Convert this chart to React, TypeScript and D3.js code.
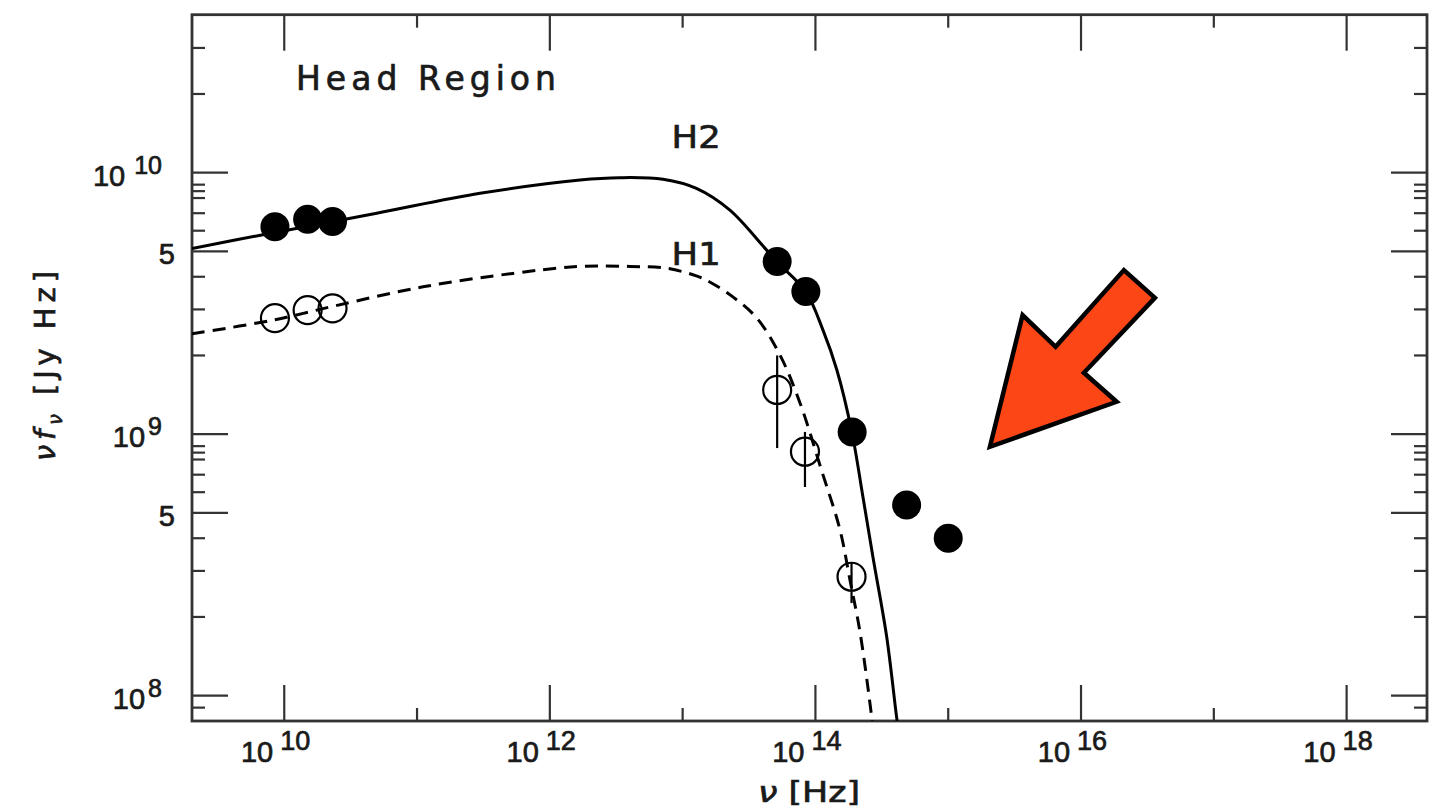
import React from 'react';
import * as d3 from 'd3';

const W = 1444;
const H = 812;

// axis ranges (Hz and Jy Hz)
const xDomain: [number, number] = [2.02e9, 4.03e18];
const yDomain: [number, number] = [8.0e7, 4.02e10];

const xMajorTicks = [1e10, 1e12, 1e14, 1e16, 1e18];
const xMajorExp = ['10', '12', '14', '16', '18'];
const xMinorTicks = [1e11, 1e13, 1e15, 1e17];

const yPowTicks = [1e8, 1e9, 1e10];
const yPowExp = ['8', '9', '10'];
const yFiveTicks = [5e8, 5e9];
const yMinorMantissas = [2, 3, 4, 6, 7, 8, 8.5, 9];
const yDecades = [1e7, 1e8, 1e9, 1e10];

// filled symbols
const filledNu = [8.51e9, 1.5e10, 2.31e10, 5.15e13, 8.47e13, 1.89e14, 4.86e14, 1.0e15];
const filledFlux = [6.21e9, 6.64e9, 6.5e9, 4.57e9, 3.51e9, 1.02e9, 5.36e8, 4.0e8];

// open symbols
const openNu = [8.51e9, 1.5e10, 2.31e10, 5.15e13, 8.34e13, 1.87e14];
const openFlux = [2.78e9, 2.98e9, 3.03e9, 1.476e9, 8.57e8, 2.85e8];
const openErrLo = [null, null, null, 8.85e8, 6.28e8, 2.26e8];
const openErrHi = [null, null, null, 2.0e9, 1.02e9, 3.24e8];

// H2 model (solid)
const h2Nu = [2.02e9, 6.76e9, 4.97e10, 2.98e11, 1.69e12, 3.37e12, 7.11e12, 1.27e13, 2.27e13, 4.02e13, 5.13e13, 8.47e13, 1.14e14, 1.45e14, 1.88e14, 2.28e14, 2.71e14, 3.44e14, 4.08e14, 4.27e14];
const h2Flux = [5.13e9, 5.78e9, 7.0e9, 8.34e9, 9.38e9, 9.57e9, 9.44e9, 8.71e9, 7.19e9, 5.25e9, 4.56e9, 3.5e9, 2.5e9, 1.76e9, 1.02e9, 5.75e8, 3.39e8, 1.68e8, 8.32e7, 7.08e7];

// H1 model (dashed)
const h1Nu = [2.02e9, 8.51e9, 2.37e10, 1.11e11, 5.27e11, 1.69e12, 4.01e12, 7.59e12, 1.27e13, 1.6e13, 2.39e13, 3.62e13, 5.4e13, 7.64e13, 1.11e14, 1.53e14, 1.82e14, 2.17e14, 2.65e14, 2.75e14];
const h1Flux = [2.42e9, 2.74e9, 3.09e9, 3.66e9, 4.12e9, 4.38e9, 4.38e9, 4.31e9, 4.03e9, 3.82e9, 3.35e9, 2.78e9, 2.01e9, 1.32e9, 7.29e8, 4.31e8, 2.77e8, 1.74e8, 8.32e7, 7.08e7];

// annotations
const regionTitle = 'Head Region';
const curveLabels = [
  { text: 'H2', nu: 8.26e12, flux: 1.24e10 },
  { text: 'H1', nu: 8.26e12, flux: 4.43e9 },
];
const arrowTip = { nu: 2.06e15, flux: 8.95e8 };
const arrowShape: [number, number][] = [
  [0, 0], [32.7, -131.7], [65.7, -100], [134, -176.7], [165, -149], [94, -74], [126.7, -45],
];

const L = 192, R = 1427, T = 14.7, B = 721;

export default function App() {
  const x = d3.scaleLog().domain(xDomain).range([L, R]);
  const y = d3.scaleLog().domain(yDomain).range([B, T]);

  const line = d3
    .line<[number, number]>()
    .x((d) => x(d[0]))
    .y((d) => y(d[1]))
    .curve(d3.curveCatmullRom.alpha(0.5));

  const h2 = h2Nu.map((n, i) => [n, h2Flux[i]] as [number, number]);
  const h1 = h1Nu.map((n, i) => [n, h1Flux[i]] as [number, number]);

  const yMinor: number[] = [];
  yDecades.forEach((d) =>
    yMinorMantissas.forEach((m) => {
      const v = m * d;
      const py = y(v);
      if (py > T + 3 && py < B - 9) yMinor.push(v);
    })
  );

  const axisColor = '#333';
  const textColor = '#1a1a1a';
  const numFont = '"Liberation Sans", Arial, sans-serif';
  const textFont = '"DejaVu Sans", sans-serif';
  const majorLen = 36;
  const minorLen = 13;
  const thick = { stroke: textColor, strokeWidth: 0.7 };

  const tipX = x(arrowTip.nu);
  const tipY = y(arrowTip.flux);
  const arrowPts = arrowShape.map(([dx, dy]) => `${tipX + dx},${tipY + dy}`).join(' ');

  return (
    <svg
      width={W}
      height={H}
      style={{ position: 'absolute', left: 0, top: 0, background: '#fff' }}
    >
      <defs>
        <clipPath id="plotClip">
          <rect x={L} y={T} width={R - L} height={B - T} />
        </clipPath>
      </defs>
      <rect x={0} y={0} width={W} height={H} fill="#fff" />

      {/* x ticks bottom & top */}
      {xMajorTicks.map((t) => (
        <g key={'xM' + t} stroke={axisColor} strokeWidth={2.2}>
          <line x1={x(t)} x2={x(t)} y1={B} y2={B - majorLen} />
          <line x1={x(t)} x2={x(t)} y1={T} y2={T + majorLen} />
        </g>
      ))}
      {xMinorTicks.map((t) => (
        <g key={'xm' + t} stroke={axisColor} strokeWidth={2.2}>
          <line x1={x(t)} x2={x(t)} y1={B} y2={B - minorLen} />
          <line x1={x(t)} x2={x(t)} y1={T} y2={T + minorLen} />
        </g>
      ))}
      {/* y ticks left & right */}
      {[...yPowTicks, ...yFiveTicks].map((t) => (
        <g key={'yM' + t} stroke={axisColor} strokeWidth={2.2}>
          <line x1={L} x2={L + majorLen} y1={y(t)} y2={y(t)} />
          <line x1={R} x2={R - majorLen} y1={y(t)} y2={y(t)} />
        </g>
      ))}
      {yMinor.map((t) => (
        <g key={'ym' + t} stroke={axisColor} strokeWidth={2.2}>
          <line x1={L} x2={L + minorLen} y1={y(t)} y2={y(t)} />
          <line x1={R} x2={R - minorLen} y1={y(t)} y2={y(t)} />
        </g>
      ))}

      {/* frame */}
      <rect x={L} y={T} width={R - L} height={B - T} fill="none" stroke={axisColor} strokeWidth={2.8} />

      {/* x tick labels */}
      {xMajorTicks.map((t, i) => (
        <g key={'xl' + t} fontFamily={numFont} fill={textColor} {...thick}>
          <text x={x(t) - 11} y={762} fontSize={29} textAnchor="end">10</text>
          <text x={x(t) - 4} y={750} fontSize={27} textAnchor="start">{xMajorExp[i]}</text>
        </g>
      ))}
      {/* y tick labels */}
      {yPowTicks.map((t, i) => (
        <text key={'yl' + t} x={162} y={y(t) + 13} fontFamily={numFont} fill={textColor} textAnchor="end" {...thick}>
          <tspan fontSize={29}>10</tspan>
          <tspan fontSize={25} dx={i === 2 ? 9 : 3} dy={-12}>{yPowExp[i]}</tspan>
        </text>
      ))}
      {yFiveTicks.map((t) => (
        <text key={'y5' + t} x={175} y={y(t) + 13} fontFamily={numFont} fontSize={29} fill={textColor} textAnchor="end" {...thick}>5</text>
      ))}

      {/* axis titles */}
      <text x={758} y={802} fontFamily={textFont} fontSize={29} fill={textColor} textLength={102} lengthAdjust="spacingAndGlyphs" {...thick}>
        <tspan fontStyle="italic">ν</tspan> [Hz]
      </text>
      <text
        transform={`translate(55, 366) rotate(-90)`}
        fontFamily={textFont}
        fontSize={29}
        fill={textColor}
        textAnchor="middle"
        textLength={190}
        lengthAdjust="spacing"
        {...thick}
      >
        <tspan fontStyle="italic">νf</tspan>
        <tspan fontSize={19} dy={7} fontStyle="italic">ν</tspan>
        <tspan dy={-7}> [Jy Hz]</tspan>
      </text>

      {/* region title */}
      <text x={296} y={90} fontFamily={textFont} fontSize={33} fill={textColor} textLength={260} lengthAdjust="spacing" {...thick}>
        {regionTitle}
      </text>

      {/* curves */}
      <g clipPath="url(#plotClip)">
        <path d={line(h2) || ''} fill="none" stroke="#000" strokeWidth={3} />
        <path d={line(h1) || ''} fill="none" stroke="#000" strokeWidth={3} strokeDasharray="13,8" />
      </g>

      {/* curve labels */}
      {curveLabels.map((c) => (
        <text key={c.text} x={x(c.nu)} y={y(c.flux)} fontFamily={textFont} fontSize={32} fill={textColor} textLength={49} lengthAdjust="spacingAndGlyphs" {...thick}>
          {c.text}
        </text>
      ))}

      {/* error bars */}
      {openNu.map((n, i) =>
        openErrLo[i] != null ? (
          <line
            key={'eb' + i}
            x1={x(n)}
            x2={x(n)}
            y1={y(openErrLo[i] as number)}
            y2={y(openErrHi[i] as number)}
            stroke="#000"
            strokeWidth={2.2}
          />
        ) : null
      )}

      {/* open symbols */}
      {openNu.map((n, i) => (
        <circle key={'o' + i} cx={x(n)} cy={y(openFlux[i])} r={14} fill="none" stroke="#000" strokeWidth={2.2} />
      ))}
      {/* filled symbols */}
      {filledNu.map((n, i) => (
        <circle key={'f' + i} cx={x(n)} cy={y(filledFlux[i])} r={14.5} fill="#000" />
      ))}

      {/* arrow */}
      <polygon points={arrowPts} fill="#FC4616" stroke="#000" strokeWidth={4.5} strokeLinejoin="miter" />
    </svg>
  );
}
